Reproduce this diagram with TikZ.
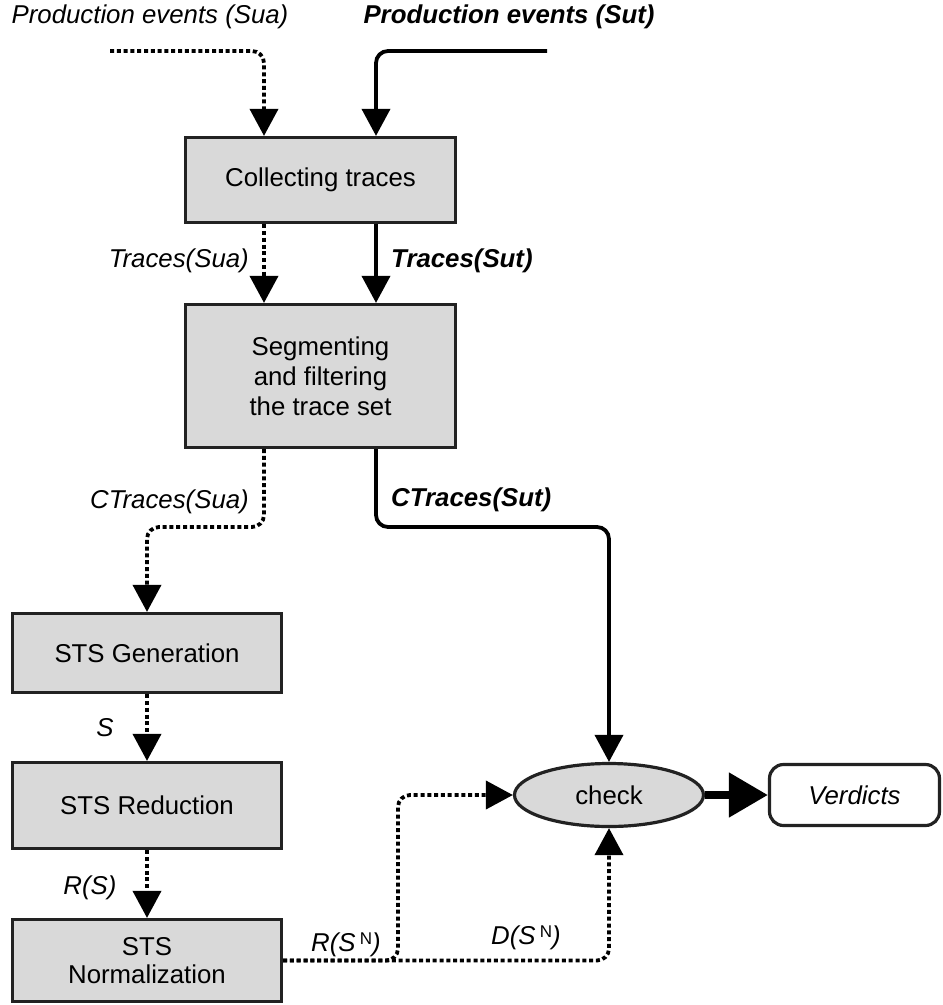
\documentclass[tikz,border=0pt]{standalone}
\usepackage{fontspec}
\setmainfont{Liberation Sans}
\usetikzlibrary{arrows.meta,shapes.geometric,calc}
\definecolor{boxgray}{HTML}{D9D9D9}
\definecolor{edgegray}{HTML}{222222}
\newcommand{\myN}{\,\raisebox{0.27em}{\upshape\fontsize{17}{17}\selectfont N}}
\begin{document}
\begin{tikzpicture}[x=1pt,y=-1pt,
  font=\fontsize{25.8}{30}\selectfont,
  proc/.style={draw=edgegray, line width=3.2pt, fill=boxgray, align=center, inner sep=0pt},
  conn/.style={line width=3.8pt, rounded corners=12pt, -{Triangle[length=27pt,width=28pt]}},
  dotconn/.style={conn, dash pattern=on 4pt off 2.8pt},
  lbl/.style={font=\fontsize{25.8}{30}\selectfont\itshape, inner sep=0pt},
  blbl/.style={font=\fontsize{25.8}{30}\selectfont\bfseries\itshape, inner sep=0pt}]
\useasboundingbox (0,0) rectangle (943,1005);

% process boxes
\node[proc, minimum width=270pt, minimum height=85pt] (collect) at (320.5,180) {Collecting traces};
\node[proc, minimum width=270pt, minimum height=143pt, font=\fontsize{25.8}{30}\selectfont] (segment) at (320.5,376) {Segmenting\\and filtering\\the trace set};
\node[proc, minimum width=269pt, minimum height=79pt] (gen) at (147,653) {STS Generation};
\node[proc, minimum width=269pt, minimum height=86pt] (red) at (147,805.5) {STS Reduction};
\node[proc, minimum width=269pt, minimum height=82pt, font=\fontsize{25.8}{28.5}\selectfont] (norm) at (147,960.5) {STS\\Normalization};
\node[ellipse, draw=edgegray, line width=3.2pt, fill=boxgray, minimum width=189pt, minimum height=63pt, inner sep=0pt] (check) at (609,795) {check};
\node[draw=edgegray, line width=3.2pt, fill=white, rounded corners=14pt, minimum width=170pt, minimum height=61pt, inner sep=0pt, font=\fontsize{25.8}{30}\selectfont\itshape] (verd) at (854.5,795) {Verdicts};

% labels
\node[lbl] (psua) at (150,17) {Production events (Sua)};
\node[blbl] (psut) at (509,17) {Production events (Sut)};
\node[lbl, anchor=east] (tsua) at (249,261) {Traces(Sua)};
\node[blbl, anchor=west] (tsut) at (391,261) {Traces(Sut)};
\node[lbl, anchor=east] (csua) at (249,502) {CTraces(Sua)};
\node[blbl, anchor=west] (csut) at (391,500) {CTraces(Sut)};
\node[lbl] (ls) at (105,728) {S};
\node[lbl] (lrs) at (90,888) {R(S)};
\node[lbl] (lrsn) at (346,945) {R(S\myN)};
\node[lbl] (ldsn) at (526,938) {D(S\myN)};

% helper coordinates
\coordinate (suain) at (110,51);
\coordinate (sutin) at (547,51);
\coordinate (xa) at (264,0);
\coordinate (xb) at (376,0);
\coordinate (xc) at (398,0);
\coordinate (ya) at (0,527);

% connectors
\draw[dotconn] (suain) -| (collect.north -| xa);
\draw[conn] (sutin) -| (collect.north -| xb);
\draw[dotconn] (collect.south -| xa) -- (segment.north -| xa);
\draw[conn] (collect.south -| xb) -- (segment.north -| xb);
\draw[dotconn] (segment.south -| xa) |- (gen.north |- ya) -- (gen.north);
\draw[conn] (segment.south -| xb) |- (check.north |- ya) -- (check.north);
\draw[dotconn] (gen.south) -- (red.north);
\draw[dotconn] (red.south) -- (norm.north);
\draw[dotconn] (norm.east) -| (check.south);
\draw[dotconn] (norm.east) -| (xc |- check.west) -- (check.west);
\draw[line width=8pt, -{Triangle[length=39pt,width=43pt]}] (check.east) -- (verd.west);
\end{tikzpicture}
\end{document}
